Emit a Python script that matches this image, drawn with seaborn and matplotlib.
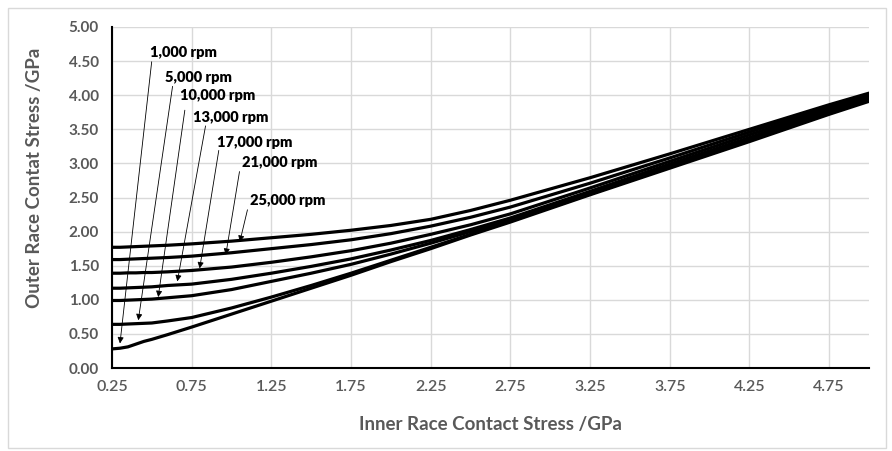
import numpy as np
import pandas as pd
import matplotlib
matplotlib.use("Agg")
import matplotlib.pyplot as plt
from matplotlib.patches import Rectangle
import seaborn as sns

# ---- data ----
inner_stress = [0.25, 0.30, 0.35, 0.40, 0.45, 0.50, 0.60, 0.75, 1.00, 1.25, 1.50,
                1.75, 2.00, 2.25, 2.50, 2.75, 3.25, 3.75, 4.25, 4.75, 5.00]
rpm_1000 = [0.28, 0.29, 0.31, 0.35, 0.39, 0.42, 0.49, 0.60, 0.79, 0.98, 1.17,
            1.36, 1.56, 1.75, 1.95, 2.14, 2.54, 2.93, 3.32, 3.72, 3.91]
rpm_5000 = [0.64, 0.64, 0.645, 0.65, 0.655, 0.66, 0.69, 0.74, 0.88, 1.04, 1.21,
            1.39, 1.58, 1.77, 1.96, 2.16, 2.55, 2.95, 3.34, 3.74, 3.93]
rpm_10000 = [0.99, 0.99, 0.995, 1.00, 1.005, 1.01, 1.03, 1.06, 1.15, 1.27, 1.39,
             1.52, 1.67, 1.83, 2.00, 2.17, 2.57, 2.96, 3.36, 3.76, 3.95]
rpm_13000 = [1.17, 1.17, 1.175, 1.18, 1.185, 1.19, 1.21, 1.23, 1.30, 1.39, 1.49,
             1.60, 1.73, 1.87, 2.03, 2.20, 2.59, 2.99, 3.38, 3.78, 3.97]
rpm_17000 = [1.39, 1.39, 1.395, 1.395, 1.40, 1.40, 1.41, 1.43, 1.48, 1.55, 1.63,
             1.72, 1.83, 1.96, 2.10, 2.26, 2.64, 3.03, 3.42, 3.81, 3.99]
rpm_21000 = [1.59, 1.59, 1.595, 1.60, 1.605, 1.61, 1.62, 1.64, 1.69, 1.75, 1.81,
             1.88, 1.97, 2.08, 2.21, 2.36, 2.71, 3.08, 3.46, 3.84, 4.01]
rpm_25000 = [1.77, 1.77, 1.775, 1.78, 1.785, 1.79, 1.80, 1.82, 1.86, 1.91, 1.96,
             2.02, 2.09, 2.18, 2.31, 2.46, 2.79, 3.14, 3.50, 3.86, 4.03]

speed_labels = ["1,000 rpm", "5,000 rpm", "10,000 rpm", "13,000 rpm",
                "17,000 rpm", "21,000 rpm", "25,000 rpm"]
series = [rpm_1000, rpm_5000, rpm_10000, rpm_13000, rpm_17000, rpm_21000, rpm_25000]

x_ticks = [0.25, 0.75, 1.25, 1.75, 2.25, 2.75, 3.25, 3.75, 4.25, 4.75]
y_ticks = [0.0, 0.5, 1.0, 1.5, 2.0, 2.5, 3.0, 3.5, 4.0, 4.5, 5.0]

# annotation layout (text left/center, arrow start, arrow tip) in data units
text_pos = [(0.488, 4.63), (0.582, 4.26), (0.676, 3.99), (0.758, 3.67),
            (0.908, 3.30), (1.065, 3.02), (1.115, 2.46)]
arrow_start = [(0.499, 4.49), (0.63, 4.13), (0.707, 3.78), (0.837, 3.55),
               (0.92, 3.19), (1.05, 2.88), (1.10, 2.32)]
arrow_tip = [(0.30, 0.36), (0.415, 0.70), (0.54, 1.04), (0.66, 1.27),
             (0.80, 1.46), (0.964, 1.66), (1.052, 1.85)]

df = pd.DataFrame({
    "inner": np.tile(inner_stress, len(series)),
    "outer": np.concatenate(series),
    "speed": np.repeat(speed_labels, len(inner_stress)),
})

sns.set_style("white")
plt.rcParams["font.family"] = ["Lato", "DejaVu Sans"]

fig = plt.figure(figsize=(8.92, 4.51), dpi=100)
ax = fig.add_axes([112 / 892, 1 - 368 / 451, (869 - 112) / 892, (368 - 27) / 451])

sns.lineplot(data=df, x="inner", y="outer", hue="speed",
             palette=["black"] * len(series), linewidth=2.3,
             legend=False, ax=ax, sort=False, estimator=None)

ax.set_xlim(0.25, 5.0)
ax.set_ylim(0, 5.0)
ax.set_xticks(x_ticks)
ax.set_yticks(y_ticks)
ax.set_xticklabels([f"{t:.2f}" for t in x_ticks])
ax.set_yticklabels([f"{t:.2f}" for t in y_ticks])

grey = "#595959"
for lab in ax.get_yticklabels():
    lab.set_fontweight("bold")
    lab.set_color(grey)
    lab.set_fontsize(11)
for lab in ax.get_xticklabels():
    lab.set_color(grey)
    lab.set_fontsize(11.5)
    lab.set_fontweight("semibold")

ax.grid(True, color="#d9d9d9", linewidth=1.0)
ax.set_axisbelow(True)
for s in ["top", "right"]:
    ax.spines[s].set_visible(False)
for s in ["left", "bottom"]:
    ax.spines[s].set_color("black")
    ax.spines[s].set_linewidth(1.5)
ax.tick_params(axis="both", direction="inout", length=9, width=1.5,
               color="black")
ax.tick_params(axis="y", pad=5)
ax.tick_params(axis="x", pad=4)

ax.set_xlabel("Inner Race Contact Stress /GPa", fontsize=13.5,
              fontweight="bold", color=grey)
ax.set_ylabel("Outer Race Contat Stress /GPa", fontsize=13.5,
              fontweight="bold", color=grey)
ax.xaxis.set_label_coords(0.5, -0.14)
ax.yaxis.set_label_coords(-0.091, 0.557)

for lbl, tp, st, tip in zip(speed_labels, text_pos, arrow_start, arrow_tip):
    ax.text(tp[0], tp[1], lbl, fontsize=10.5, fontweight="heavy",
            color="black", ha="left", va="center")
    ax.annotate("", xy=tip, xytext=st,
                arrowprops=dict(arrowstyle="-|>", color="black", lw=0.6,
                                mutation_scale=9, shrinkA=0, shrinkB=0))

fig.patches.append(Rectangle((8 / 892, 3 / 451), 878 / 892, 440 / 451,
                             transform=fig.transFigure, fill=False,
                             edgecolor="#d9d9d9", linewidth=1.0))

fig.savefig("out.png", dpi=100)
